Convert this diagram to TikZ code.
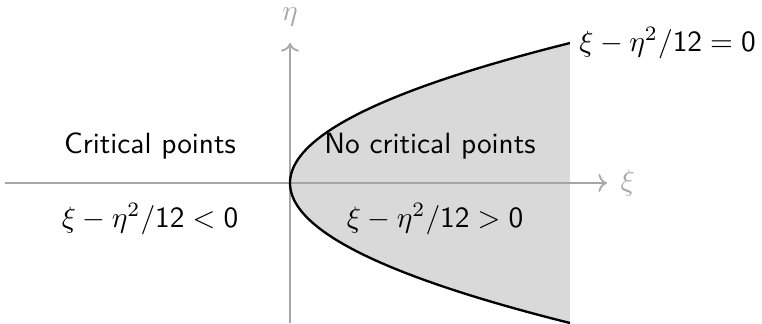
\documentclass[tikz,border=0pt]{standalone}
\usepackage{amsmath,amssymb}
\usepackage{tikz}
\usetikzlibrary{arrows.meta,positioning,calc}

\begin{document}
\begin{tikzpicture}[
  x=0.012cm, y=-0.012cm,
  font=\sffamily,
  axis/.style={->, gray!70, semithick},
  curve/.style={black, thick},
  lbl/.style={inner sep=1pt}
]
\useasboundingbox (0,0) rectangle (762,323);
% region with no critical points
\fill[black!15] plot[domain=-1:1, samples=80] ({290+280*\x*\x},{183-140*\x}) -- cycle;

% axes
\coordinate (o) at (290,183);
\coordinate (xl) at (5,183);
\coordinate (xr) at (607,183);
\coordinate (yb) at (290,323);
\coordinate (yt) at (290,43);
\draw[axis] (xl) -- (xr) node[right=1pt, gray!70] (xi) {$\xi$};
\draw[axis] (yb) -- (yt) node[above=2pt, gray!70] (eta) {$\eta$};

% parabola
\draw[curve] plot[domain=-1:1, samples=80] ({290+280*\x*\x},{183-140*\x});
\coordinate (ptop) at (570,43);
\node[lbl, right=2pt of ptop] (eq) {$\xi-\eta^2/\textsf{12}=\textsf{0}$};

% labels
\node[lbl] (crit) at (150,146) {Critical points};
\node[lbl] (lt) at (150,219) {$\xi-\eta^2/\textsf{12}<\textsf{0}$};
\node[lbl] (nocrit) at (430,146) {No critical points};
\node[lbl] (gt) at (435,219) {$\xi-\eta^2/\textsf{12}>\textsf{0}$};
\end{tikzpicture}
\end{document}
